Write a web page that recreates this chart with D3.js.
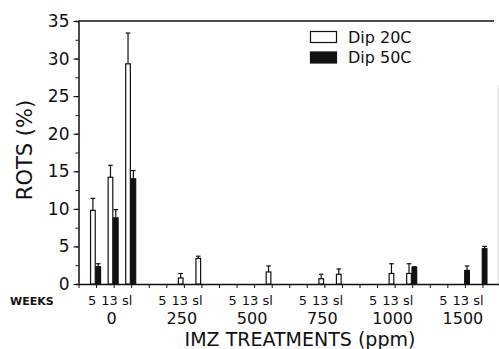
<!DOCTYPE html>
<html>
<head>
<meta charset="utf-8">
<script src="https://cdn.jsdelivr.net/npm/d3@7/dist/d3.min.js"></script>
<style>
  body { margin: 0; background: #fff; }
  svg { display: block; font-family: "DejaVu Sans", sans-serif; }
</style>
</head>
<body>
<div id="chart"></div>
<script>
// treatments (ppm) and storage weeks
const treatments = ["0", "250", "500", "750", "1000", "1500"];
const weeks = ["5", "13", "sl"];
const series = ["Dip 20C", "Dip 50C"];

// rots (%) per treatment, per week
const dip20 = [
  [9.8, 14.2, 29.3],
  [0, 0.8, 3.4],
  [0, 0, 1.6],
  [0, 0.7, 1.3],
  [0, 1.4, 1.4],
  [0, 0, 0]
];
const dip20Err = [
  [11.4, 15.8, 33.4],
  [0, 1.4, 3.7],
  [0, 0, 2.4],
  [0, 1.3, 2.0],
  [0, 2.7, 2.7],
  [0, 0, 0]
];
const dip50 = [
  [2.3, 8.8, 14.0],
  [0, 0, 0],
  [0, 0, 0],
  [0, 0, 0],
  [0, 0, 2.2],
  [0, 1.8, 4.7]
];
const dip50Err = [
  [2.7, 9.9, 15.1],
  [0, 0, 0],
  [0, 0, 0],
  [0, 0, 0],
  [0, 0, 2.3],
  [0, 2.4, 5.0]
];
const yTicks = [0, 5, 10, 15, 20, 25, 30, 35];

const width = 499, height = 349;
const svg = d3.select("#chart").append("svg")
  .attr("width", width)
  .attr("height", height);

// each treatment takes 3 slots plus one empty slot
const slotOf = (t, w) => 1 + t * 4 + w;
const x = d3.scaleLinear().domain([0, 24]).range([78.5, 500]);
const y = d3.scaleLinear().domain([0, 35]).range([284, 21]);
const sub = d3.scaleBand().domain(series).range([-5.5, 4.5]).paddingInner(0.12);

const bars = [];
treatments.forEach((t, ti) => {
  weeks.forEach((w, wi) => {
    bars.push({ s: series[0], slot: slotOf(ti, wi), v: dip20[ti][wi], e: dip20Err[ti][wi] });
    bars.push({ s: series[1], slot: slotOf(ti, wi), v: dip50[ti][wi], e: dip50Err[ti][wi] });
  });
});

// frame top and faint right edge
svg.append("line")
  .attr("x1", x(0)).attr("x2", 494)
  .attr("y1", y(35)).attr("y2", y(35))
  .attr("stroke", "#111").attr("stroke-width", 1.4);
svg.append("line")
  .attr("x1", 498).attr("x2", 498)
  .attr("y1", 85).attr("y2", y(0))
  .attr("stroke", "#d8d8d8").attr("stroke-width", 1);

// y axis
const yAxis = svg.append("g").attr("transform", `translate(${x(0)},0)`);
yAxis.call(d3.axisLeft(y).tickValues(d3.range(0, 35.1, 2.5)).tickSize(3).tickFormat(""));
yAxis.call(g => g.selectAll(".tick line").attr("stroke", "#111"));
yAxis.append("g").call(d3.axisLeft(y).tickValues(yTicks).tickSize(5).tickPadding(4))
  .call(g => g.select(".domain").remove())
  .call(g => g.selectAll("text").attr("fill", "#111").attr("font-size", 17).attr("font-family", "DejaVu Sans"));
yAxis.select(".domain").attr("stroke", "#111").attr("stroke-width", 1.5);

// x axis
const xAxis = svg.append("g").attr("transform", `translate(0,${y(0)})`);
xAxis.call(d3.axisBottom(x).tickValues(d3.range(0, 24)).tickSize(4).tickFormat("").tickSizeOuter(0));
xAxis.select(".domain").attr("stroke", "#111").attr("stroke-width", 1.5);
xAxis.selectAll(".tick line").attr("stroke", "#111");

// week labels
const weekLabels = svg.append("g").attr("font-size", 13).attr("fill", "#111").attr("text-anchor", "middle");
treatments.forEach((t, ti) => {
  weeks.forEach((w, wi) => {
    weekLabels.append("text")
      .attr("x", x(slotOf(ti, wi)) - 4)
      .attr("y", 305)
      .text(w);
  });
});

// treatment labels
svg.append("g").attr("font-size", 16).attr("fill", "#111").attr("text-anchor", "middle")
  .selectAll("text").data(treatments).join("text")
  .attr("x", (d, i) => x(slotOf(i, 1)) - 2)
  .attr("y", 324)
  .text(d => d);

svg.append("text")
  .attr("x", 10).attr("y", 305)
  .attr("font-size", 11).attr("font-weight", "bold").attr("fill", "#111")
  .text("WEEKS");

svg.append("text")
  .attr("x", 300).attr("y", 346)
  .attr("text-anchor", "middle").attr("font-size", 19).attr("fill", "#111")
  .text("IMZ TREATMENTS (ppm)");

svg.append("text")
  .attr("transform", "translate(32,150) rotate(-90)")
  .attr("text-anchor", "middle").attr("font-size", 21).attr("fill", "#111")
  .text("ROTS (%)");

// bars
const shown = bars.filter(d => d.v > 0);
svg.append("g").selectAll("rect").data(shown).join("rect")
  .attr("x", d => x(d.slot) + sub(d.s))
  .attr("width", sub.bandwidth())
  .attr("y", d => y(d.v))
  .attr("height", d => y(0) - y(d.v))
  .attr("fill", d => d.s === series[0] ? "#fff" : "#111")
  .attr("stroke", "#111")
  .attr("stroke-width", 1.2);

// error bars (upper only)
const errs = svg.append("g").attr("stroke", "#111").attr("stroke-width", 1.2);
shown.filter(d => d.e > d.v).forEach(d => {
  const cx = x(d.slot) + sub(d.s) + sub.bandwidth() / 2;
  errs.append("line").attr("x1", cx).attr("x2", cx).attr("y1", y(d.v)).attr("y2", y(d.e));
  errs.append("line").attr("x1", cx - 2.3).attr("x2", cx + 2.3).attr("y1", y(d.e)).attr("y2", y(d.e));
});

// legend
const legend = svg.append("g").attr("font-size", 16).attr("fill", "#111");
series.forEach((s, i) => {
  legend.append("rect")
    .attr("x", 310.5).attr("y", 31.5 + i * 20.5)
    .attr("width", 26).attr("height", 11)
    .attr("fill", i === 0 ? "#fff" : "#111")
    .attr("stroke", "#111").attr("stroke-width", 1.2);
  legend.append("text")
    .attr("x", 348).attr("y", 42.5 + i * 20.5)
    .text(s);
});
</script>
</body>
</html>
